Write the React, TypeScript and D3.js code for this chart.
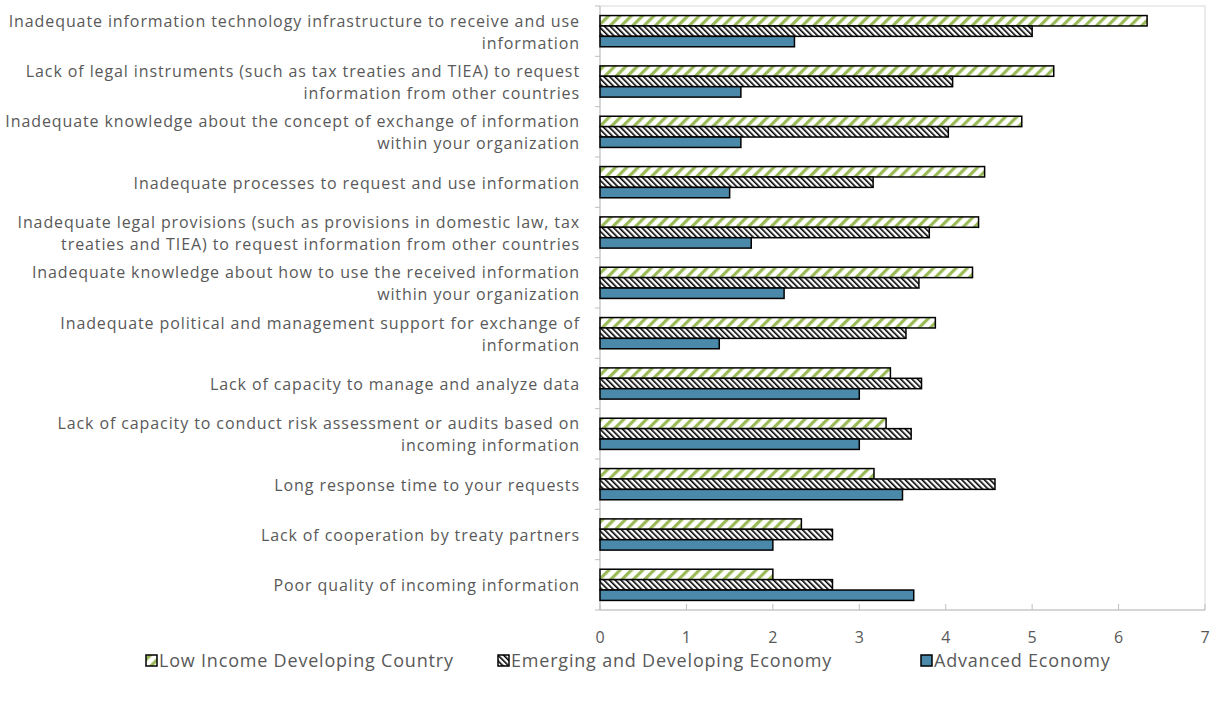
import React from "react";
import * as d3 from "d3";

const categories: string[][] = [
  ["Inadequate information technology infrastructure to receive and use", "information"],
  ["Lack of legal instruments (such as tax treaties and TIEA) to request", "information from other countries"],
  ["Inadequate knowledge about the concept of exchange of information", "within your organization"],
  ["Inadequate processes to request and use information"],
  ["Inadequate legal provisions (such as provisions in domestic law, tax", "treaties and TIEA) to request information from other countries"],
  ["Inadequate knowledge about how to use the received information", "within your organization"],
  ["Inadequate political and management support for exchange of", "information"],
  ["Lack of capacity to manage and analyze data"],
  ["Lack of capacity to conduct risk assessment or audits based on", "incoming information"],
  ["Long response time to your requests"],
  ["Lack of cooperation by treaty partners"],
  ["Poor quality of incoming information"],
];

const lowIncome = [6.33, 5.25, 4.88, 4.45, 4.38, 4.31, 3.88, 3.36, 3.31, 3.17, 2.33, 2.0];
const emerging = [5.0, 4.08, 4.03, 3.16, 3.81, 3.69, 3.54, 3.72, 3.6, 4.57, 2.69, 2.69];
const advanced = [2.25, 1.63, 1.63, 1.5, 1.75, 2.13, 1.38, 3.0, 3.0, 3.5, 2.0, 3.63];

const seriesNames = ["Low Income Developing Country", "Emerging and Developing Economy", "Advanced Economy"];
const seriesFills = ["url(#pGreen)", "url(#pHatch)", "#4a89aa"];
const xTicks = [0, 1, 2, 3, 4, 5, 6, 7];

const W = 1214;
const H = 702;
const plot = { left: 600, right: 1205, top: 6, bottom: 610 };
const TEXT = "#595959";
const FONT = "'Open Sans', 'Noto Sans', sans-serif";

export default function App() {
  const x = d3.scaleLinear().domain([0, 7]).range([plot.left, plot.right]);
  const y = d3
    .scaleBand<number>()
    .domain(categories.map((_, i) => i))
    .range([plot.top, plot.bottom]);
  const bw = y.bandwidth();
  const groupH = bw * 0.62;
  const sub = d3
    .scaleBand<number>()
    .domain([0, 1, 2])
    .range([(bw - groupH) / 2, (bw + groupH) / 2]);
  const series = [lowIncome, emerging, advanced];

  const legendItems = [
    { x: 146, idx: 0 },
    { x: 498, idx: 1 },
    { x: 921, idx: 2 },
  ];

  return (
    <svg width={W} height={H} style={{ position: "absolute", left: 0, top: 0, background: "#fff" }}>
      <defs>
        <pattern id="pGreen" width="8" height="8" patternUnits="userSpaceOnUse" patternTransform="rotate(45)">
          <rect width="8" height="8" fill="#ffffff" />
          <rect x="0" y="0" width="3.2" height="8" fill="#9bbb59" />
        </pattern>
        <pattern id="pHatch" width="4" height="4" patternUnits="userSpaceOnUse" patternTransform="rotate(-45)">
          <rect width="4" height="4" fill="#ffffff" />
          <rect x="0" y="0" width="1.6" height="4" fill="#000000" />
        </pattern>
      </defs>
      <rect x={0} y={0} width={W} height={H} fill="#fff" />
      <rect
        x={plot.left}
        y={plot.top}
        width={plot.right - plot.left}
        height={plot.bottom - plot.top}
        fill="none"
        stroke="#d9d9d9"
        strokeWidth={1}
      />
      <line x1={plot.left} x2={plot.right} y1={plot.bottom} y2={plot.bottom} stroke="#bfbfbf" />
      {xTicks.map((t) => (
        <g key={"xt" + t}>
          <line x1={x(t)} x2={x(t)} y1={plot.bottom} y2={plot.bottom - 6} stroke="#bfbfbf" />
          <text x={x(t)} y={plot.bottom + 27} dy="0.35em" textAnchor="middle" fontSize={16} fill={TEXT} fontFamily={FONT}>
            {t}
          </text>
        </g>
      ))}
      <line x1={plot.left} x2={plot.left} y1={plot.top} y2={plot.bottom} stroke="#bfbfbf" />
      {categories.map((_, i) => (
        <line
          key={"yt" + i}
          x1={plot.left - 5}
          x2={plot.left}
          y1={y(i) as number}
          y2={y(i) as number}
          stroke="#bfbfbf"
        />
      ))}
      <line x1={plot.left - 5} x2={plot.left} y1={plot.bottom} y2={plot.bottom} stroke="#bfbfbf" />
      {categories.map((_, i) =>
        series.map((s, k) => (
          <rect
            key={`b${i}-${k}`}
            x={x(0)}
            y={(y(i) as number) + (sub(k) as number)}
            width={x(s[i]) - x(0)}
            height={sub.bandwidth()}
            fill={seriesFills[k]}
            stroke="#000"
            strokeWidth={1.5}
          />
        ))
      )}
      {categories.map((lines, i) => {
        const cy = (y(i) as number) + bw / 2 + 1;
        const lh = 22;
        const start = cy - ((lines.length - 1) * lh) / 2;
        return (
          <text key={"cl" + i} textAnchor="end" fontSize={16} letterSpacing={0.9} fill={TEXT} fontFamily={FONT}>
            {lines.map((ln, j) => (
              <tspan key={j} x={580} y={start + j * lh} dy="0.35em">
                {ln}
              </tspan>
            ))}
          </text>
        );
      })}
      {legendItems.map((it) => (
        <g key={"lg" + it.idx}>
          <rect x={it.x} y={655} width={11} height={11} fill={seriesFills[it.idx]} stroke="#000" strokeWidth={1.5} />
          <text x={it.x + 13} y={661} dy="0.35em" fontSize={18} letterSpacing={0.8} fill={TEXT} fontFamily={FONT}>
            {seriesNames[it.idx]}
          </text>
        </g>
      ))}
    </svg>
  );
}
